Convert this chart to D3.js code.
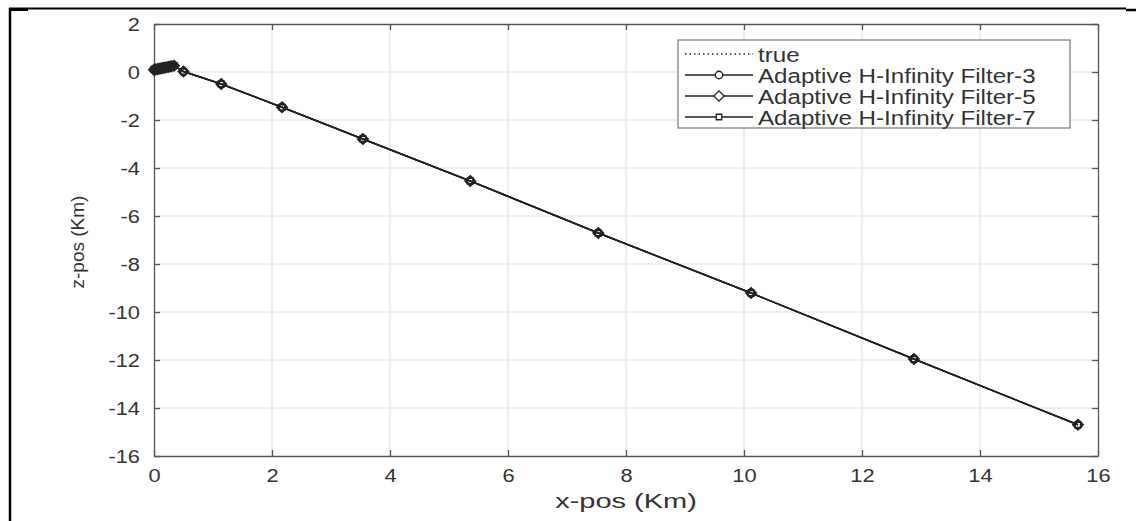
<!DOCTYPE html>
<html>
<head>
<meta charset="utf-8">
<script src="https://cdn.jsdelivr.net/npm/d3@7"></script>
<style>
  body { margin: 0; background: #fff; }
  svg { display: block; }
  text { font-family: "Liberation Sans", Arial, sans-serif; fill: #333; }
</style>
</head>
<body>
<div id="chart"></div>
<script>
// trajectory samples (Km)
const xPos = [0.00, 0.03, 0.06, 0.09, 0.12, 0.15, 0.18, 0.21, 0.24, 0.27, 0.30, 0.34,
  0.50, 1.14, 2.17, 3.54, 5.36, 7.53, 10.12, 12.88, 15.66];
const zTrue = [0.10, 0.11, 0.13, 0.14, 0.16, 0.17, 0.19, 0.20, 0.22, 0.23, 0.25, 0.26,
  0.02, -0.50, -1.47, -2.79, -4.54, -6.71, -9.21, -11.96, -14.70];
const zF3 = [0.10, 0.12, 0.13, 0.15, 0.16, 0.18, 0.19, 0.21, 0.22, 0.24, 0.25, 0.27,
  0.02, -0.50, -1.47, -2.79, -4.54, -6.71, -9.21, -11.96, -14.70];
const zF5 = [0.09, 0.11, 0.12, 0.14, 0.15, 0.17, 0.18, 0.20, 0.21, 0.23, 0.24, 0.26,
  0.02, -0.50, -1.47, -2.79, -4.54, -6.71, -9.21, -11.96, -14.70];
const zF7 = [0.11, 0.12, 0.14, 0.15, 0.17, 0.18, 0.20, 0.21, 0.23, 0.24, 0.26, 0.27,
  0.02, -0.50, -1.47, -2.79, -4.54, -6.71, -9.21, -11.96, -14.70];

const xTicks = [0, 2, 4, 6, 8, 10, 12, 14, 16];
const yTicks = [2, 0, -2, -4, -6, -8, -10, -12, -14, -16];
const legendNames = ["true", "Adaptive H-Infinity Filter-3", "Adaptive H-Infinity Filter-5", "Adaptive H-Infinity Filter-7"];

const W = 1136, H = 521;
const margin = { left: 154, right: 38, top: 24, bottom: 65 };
const innerW = W - margin.left - margin.right;
const innerH = H - margin.top - margin.bottom;
const ink = "#222";
const axisCol = "#555";

const svg = d3.select("#chart").append("svg").attr("width", W).attr("height", H);

// outer frame fragments of the page
svg.append("line").attr("x1", 9).attr("x2", 1126).attr("y1", 8.5).attr("y2", 8.5)
  .attr("stroke", "#000").attr("stroke-width", 2);
svg.append("line").attr("x1", 9).attr("x2", 28).attr("y1", 9.5).attr("y2", 9.5)
  .attr("stroke", "#000").attr("stroke-width", 3);
svg.append("line").attr("x1", 1126).attr("x2", 1136).attr("y1", 10).attr("y2", 10)
  .attr("stroke", "#000").attr("stroke-width", 2.5);
svg.append("line").attr("x1", 10).attr("x2", 10).attr("y1", 8).attr("y2", H)
  .attr("stroke", "#000").attr("stroke-width", 2.5);

const g = svg.append("g").attr("transform", `translate(${margin.left},${margin.top})`);

const x = d3.scaleLinear().domain([0, 16]).range([0, innerW]);
const y = d3.scaleLinear().domain([-16, 2]).range([innerH, 0]);

// grid
g.append("g").selectAll("line").data(xTicks.slice(1, -1)).join("line")
  .attr("x1", d => x(d)).attr("x2", d => x(d)).attr("y1", 0).attr("y2", innerH)
  .attr("stroke", "#dedede").attr("stroke-width", 1);
g.append("g").selectAll("line").data(yTicks.slice(1, -1)).join("line")
  .attr("x1", 0).attr("x2", innerW).attr("y1", d => y(d)).attr("y2", d => y(d))
  .attr("stroke", "#dedede").attr("stroke-width", 1);

// axes (ticks inside, mirrored on top/right)
const fmt = d => String(d); // plain hyphen minus, like the original
const styleAxis = (sel) => {
  sel.attr("font-size", null).attr("font-family", null);
  sel.select(".domain").attr("stroke", axisCol).attr("stroke-width", 1.3);
  sel.selectAll(".tick line").attr("stroke", axisCol).attr("stroke-width", 1.3);
  sel.selectAll(".tick text").attr("fill", "#333").style("font-size", "19px");
};
const stretch = 1.15;
const xAxis = g.append("g").attr("transform", `translate(0,${innerH})`)
  .call(d3.axisBottom(x).tickValues(xTicks).tickFormat(fmt).tickSizeInner(-6).tickSizeOuter(0).tickPadding(13))
  .call(styleAxis);
xAxis.selectAll(".tick text").attr("transform", `scale(${stretch},1)`);
const yAxis = g.append("g")
  .call(d3.axisLeft(y).tickValues(yTicks).tickFormat(fmt).tickSizeInner(-6).tickSizeOuter(0).tickPadding(14))
  .call(styleAxis);
yAxis.selectAll(".tick text").attr("dy", "0.36em")
  .attr("transform", `translate(-14,0) scale(${stretch},1) translate(14,0)`);
g.append("g")
  .call(d3.axisTop(x).tickValues(xTicks).tickSizeInner(-6).tickSizeOuter(0).tickFormat(""))
  .call(styleAxis);
g.append("g").attr("transform", `translate(${innerW},0)`)
  .call(d3.axisRight(y).tickValues(yTicks).tickSizeInner(-6).tickSizeOuter(0).tickFormat(""))
  .call(styleAxis);

// labels
svg.append("text")
  .attr("transform", `translate(${margin.left + innerW / 2},${H - 13}) scale(1.45,1)`)
  .attr("text-anchor", "middle").style("font-size", "20px").text("x-pos (Km)");
svg.append("text")
  .attr("transform", `translate(84,242) rotate(-90)`)
  .attr("text-anchor", "middle").style("font-size", "19px").text("z-pos (Km)");

// series
const diamond = { draw: (ctx, size) => { const r = Math.sqrt(size) / 1.3; ctx.moveTo(0, -r); ctx.lineTo(r, 0); ctx.lineTo(0, r); ctx.lineTo(-r, 0); ctx.closePath(); } };
const mk = (zs) => xPos.map((d, i) => ({ x: d, z: zs[i] }));
const series = [
  { name: legendNames[0], data: mk(zTrue), dash: "1.5,3", marker: null },
  { name: legendNames[1], data: mk(zF3), dash: null, marker: d3.symbolCircle, size: 44 },
  { name: legendNames[2], data: mk(zF5), dash: null, marker: diamond, size: 44 },
  { name: legendNames[3], data: mk(zF7), dash: null, marker: d3.symbolSquare, size: 30 },
];

const line = d3.line().x(d => x(d.x)).y(d => y(d.z));

series.forEach((s) => {
  g.append("path").datum(s.data)
    .attr("d", line).attr("fill", "none")
    .attr("stroke", ink).attr("stroke-width", 1.5)
    .attr("stroke-dasharray", s.dash);
  if (s.marker) {
    g.append("g").selectAll("path").data(s.data).join("path")
      .attr("transform", d => `translate(${x(d.x)},${y(d.z)})`)
      .attr("d", d3.symbol().type(s.marker).size(s.size))
      .attr("fill", "none").attr("stroke", ink).attr("stroke-width", 1.7);
  }
});

// legend
const lg = svg.append("g").attr("transform", "translate(678,40)");
lg.append("rect").attr("width", 392).attr("height", 88)
  .attr("fill", "#fff").attr("stroke", "#777").attr("stroke-width", 1.2);
const row = lg.selectAll("g.row").data(series).join("g").attr("class", "row")
  .attr("transform", (d, i) => `translate(0,${14 + i * 21})`);
row.append("line").attr("x1", 7).attr("x2", 75).attr("y1", 0).attr("y2", 0)
  .attr("stroke", ink).attr("stroke-width", 1.3)
  .attr("stroke-dasharray", d => d.dash);
row.filter(d => d.marker).append("path")
  .attr("transform", "translate(41,0)")
  .attr("d", d => d3.symbol().type(d.marker).size(d.size)())
  .attr("fill", "#fff").attr("stroke", ink).attr("stroke-width", 1.3);
row.append("text")
  .attr("transform", "translate(80,0) scale(1.15,1)")
  .attr("dy", "0.36em").style("font-size", "21px").text(d => d.name);
</script>
</body>
</html>
